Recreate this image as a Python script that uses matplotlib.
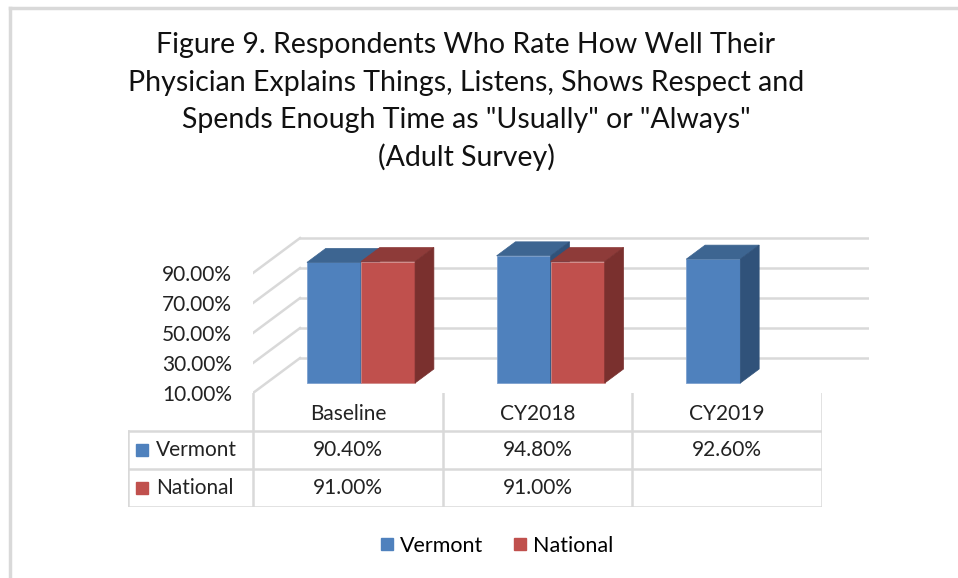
import matplotlib.pyplot as plt
from matplotlib.patches import Polygon
from matplotlib.lines import Line2D

categories = ["Baseline", "CY2018", "CY2019"]
vermont = [90.4, 94.8, 92.6]
national = [91.0, 91.0, None]
yticks = [10, 30, 50, 70, 90]
title_lines = ['Figure 9. Respondents Who Rate How Well Their',
               'Physician Explains Things, Listens, Shows Respect and',
               'Spends Enough Time as "Usually" or "Always"',
               '(Adult Survey)']

plt.rcParams['font.family'] = ['Lato', 'DejaVu Sans']

blue = ["#4F81BD", "#3D6591", "#30527A"]   # front, top, side
red = ["#C0504D", "#8E3B39", "#7A302E"]
grid = "#D9D9D9"
txt = "#222222"
fs = 15

W, H = 958, 578
fig = plt.figure(figsize=(W / 100, H / 100), dpi=100)

# 3d-ish geometry (category units / percent units)
wall_dx, wall_dy = 0.248, 23.3
f0, fd = 0.286, 0.40          # bar front depth, bar depth (fractions of wall)
gap, bw = 0.2135, 0.285
ymin, ymax = 10, 100

# main axes: front plane x 0..3 -> px 253..822, y 10 -> px 393, 1.5 px per %
px_x = 189.67
ax = fig.add_axes([253 / W, (H - 393) / H, (3 + wall_dx) * px_x / W,
                   (ymax + wall_dy - ymin) * 1.5 / H])
ax.set_xlim(0, 3 + wall_dx)
ax.set_ylim(ymin, ymax + wall_dy)
for s in ax.spines.values():
    s.set_visible(False)
ax.set_xticks([])
ax.set_yticks(yticks)
ax.set_yticklabels([f"{t:.2f}%" for t in yticks], fontsize=fs, color=txt)
ax.tick_params(axis="y", length=0, pad=15)

# walls
for t in yticks:
    ax.plot([wall_dx, 3 + wall_dx], [t + wall_dy, t + wall_dy], color=grid, lw=1.8, zorder=1)
    ax.plot([0, wall_dx], [t, t + wall_dy], color=grid, lw=1.8, zorder=1)


def bar3d(x0, val, cols):
    ox, oy = f0 * wall_dx, f0 * wall_dy
    bx, by = fd * wall_dx, fd * wall_dy
    xl, xr = x0 + ox, x0 + bw + ox
    yb, yt = ymin + oy, val + oy
    ax.add_patch(Polygon([(xl, yb), (xr, yb), (xr, yt), (xl, yt)], closed=True,
                         fc=cols[0], ec="#7DA0CF" if cols is blue else "#D08A88", lw=0.6, zorder=3))
    ax.add_patch(Polygon([(xl, yt), (xr, yt), (xr + bx, yt + by), (xl + bx, yt + by)],
                         closed=True, fc=cols[1], ec=cols[1], lw=0.5, zorder=3))
    ax.add_patch(Polygon([(xr, yb), (xr + bx, yb + by), (xr + bx, yt + by), (xr, yt)],
                         closed=True, fc=cols[2], ec=cols[2], lw=0.5, zorder=3))


for i in range(len(categories)):
    bar3d(i + gap, vermont[i], blue)
    if national[i] is not None:
        bar3d(i + gap + bw, national[i], red)

# data table
lab_w = 125 / px_x
tab = fig.add_axes([128 / W, (H - 507) / H, (3 + lab_w) * px_x / W, 114 / H])
tab.set_xlim(-lab_w, 3)
tab.set_ylim(3, 0)
tab.axis("off")
for x in range(4):
    tab.plot([x, x], [0, 3], color=grid, lw=1.8)
tab.plot([-lab_w, -lab_w], [1, 3], color=grid, lw=1.8)
for y in [1, 2, 3]:
    tab.plot([-lab_w, 3], [y, y], color=grid, lw=1.8)
for i, c in enumerate(categories):
    tab.text(i + 0.5, 0.55, c, ha="center", va="center", fontsize=fs, color=txt)
    tab.text(i + 0.5, 1.5, f"{vermont[i]:.2f}%", ha="center", va="center", fontsize=fs, color=txt)
    if national[i] is not None:
        tab.text(i + 0.5, 2.5, f"{national[i]:.2f}%", ha="center", va="center", fontsize=fs, color=txt)
for r, (name, col) in enumerate([("Vermont", blue[0]), ("National", red[0])]):
    tab.plot([-lab_w + 14 / px_x], [r + 1.5], marker="s", ms=8.5, color=col, ls="none")
    tab.text(-lab_w + 28 / px_x, r + 1.5, name, ha="left", va="center", fontsize=fs, color=txt)

# title
for k, line in enumerate(title_lines):
    fig.text(466 / W, 1 - (45 + 37.5 * k) / H, line, ha="center", va="center",
             fontsize=20.5, color="#111111")

# legend
handles = [Line2D([], [], marker="s", ls="none", ms=9, color=blue[0]),
           Line2D([], [], marker="s", ls="none", ms=9, color=red[0])]
fig.legend(handles, ["Vermont", "National"], loc="center", bbox_to_anchor=(496 / W, 1 - 546 / H),
           ncol=2, frameon=False, fontsize=15.5, handletextpad=0.2, columnspacing=1.3,
           handlelength=0.8)

# chart border (left and top only visible)
fig.add_artist(Line2D([10 / W, 10 / W], [0, 1 - 8 / H], color=grid, lw=2.5))
fig.add_artist(Line2D([10 / W, 1], [1 - 8 / H, 1 - 8 / H], color=grid, lw=2.5))

fig.savefig("out.png", dpi=100)
